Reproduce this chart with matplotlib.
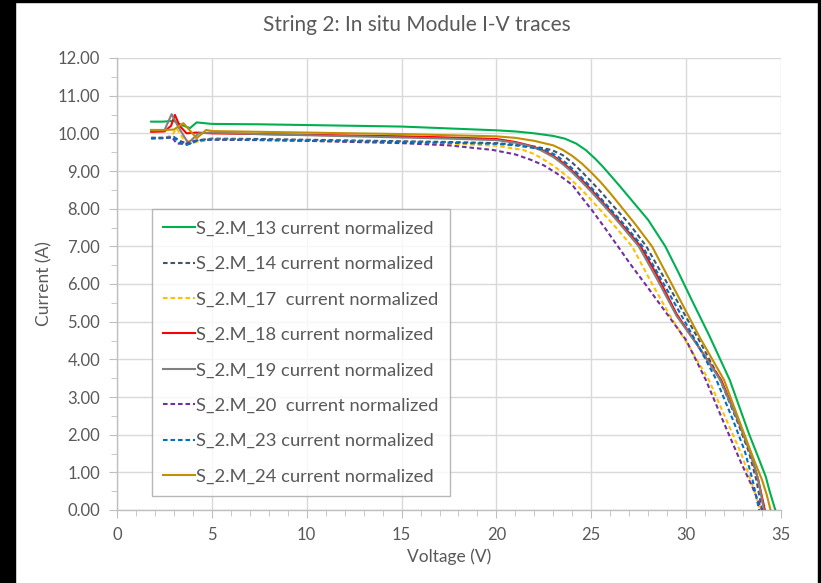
import matplotlib
matplotlib.use("Agg")
import matplotlib.pyplot as plt
from matplotlib.patches import Rectangle
from matplotlib.ticker import MultipleLocator, FormatStrFormatter

plt.rcParams['font.family'] = ['Lato', 'DejaVu Sans']

title = "String 2: In situ Module I-V traces"
x_label = "Voltage (V)"
y_label = "Current (A)"

labels = [
    "S_2.M_13 current normalized",
    "S_2.M_14 current normalized",
    "S_2.M_17  current normalized",
    "S_2.M_18 current normalized",
    "S_2.M_19 current normalized",
    "S_2.M_20  current normalized",
    "S_2.M_23 current normalized",
    "S_2.M_24 current normalized",
]

v_m13 = [1.8, 2.4, 3.0, 3.4, 3.85, 4.2, 4.6, 5.0, 7.5, 10, 12.5, 15, 17.5, 20, 21, 22, 23, 23.6, 24.2, 24.7, 25.2, 25.6, 26, 26.5, 27, 27.5, 28, 28.9, 29.6, 30.3, 31.2, 32.3, 33.3, 33.8, 34.2, 34.4, 34.55, 34.7]
i_m13 = [10.31, 10.31, 10.33, 10.22, 10.14, 10.29, 10.27, 10.25, 10.24, 10.22, 10.2, 10.18, 10.13, 10.08, 10.05, 10.0, 9.93, 9.86, 9.73, 9.56, 9.33, 9.12, 8.89, 8.6, 8.3, 8.0, 7.7, 7.0, 6.3, 5.57, 4.65, 3.45, 2.04, 1.4, 0.88, 0.5, 0.25, 0.0]

v_m14 = [1.8, 2.5, 3.0, 3.4, 3.8, 4.3, 5.0, 7.5, 10, 12.5, 15, 17.5, 20, 21, 22, 22.9, 23.5, 24, 24.5, 25, 25.5, 26, 26.5, 27, 27.9, 28.8, 29.8, 30.8, 31.8, 32.7, 33.3, 33.7, 34.0]
i_m14 = [9.88, 9.88, 9.9, 9.78, 9.72, 9.82, 9.86, 9.85, 9.83, 9.81, 9.79, 9.77, 9.74, 9.7, 9.65, 9.56, 9.42, 9.22, 8.98, 8.72, 8.45, 8.16, 7.88, 7.6, 7.0, 6.2, 5.3, 4.4, 3.45, 2.35, 1.55, 0.8, 0.0]

v_m17 = [1.8, 2.5, 2.9, 3.14, 3.5, 4.0, 5.0, 7.5, 10, 12.5, 15, 17.5, 20, 21.4, 22, 22.5, 23, 23.5, 24, 24.5, 25, 25.5, 26.3, 27.15, 28.1, 29.1, 30.2, 31.2, 32.2, 32.9, 33.4, 33.9]
i_m17 = [9.87, 9.88, 9.95, 10.13, 9.85, 9.75, 9.84, 9.82, 9.8, 9.78, 9.76, 9.73, 9.67, 9.56, 9.45, 9.3, 9.14, 8.95, 8.74, 8.5, 8.23, 7.95, 7.5, 7.0, 6.1, 5.2, 4.3, 3.45, 2.3, 1.5, 0.8, 0.0]

v_m18 = [1.8, 2.5, 2.85, 3.05, 3.3, 3.67, 4.2, 5.0, 7.5, 10, 12.5, 15, 17.5, 20, 21, 21.8, 22.4, 23, 23.5, 24, 24.5, 25, 25.5, 26, 26.5, 27.6, 28.5, 29.5, 30.7, 31.85, 32.8, 33.4, 33.8, 34.15]
i_m18 = [10.04, 10.05, 10.2, 10.49, 10.2, 10.0, 10.02, 10.0, 9.98, 9.96, 9.94, 9.92, 9.89, 9.85, 9.77, 9.67, 9.56, 9.4, 9.22, 9.0, 8.76, 8.5, 8.22, 7.94, 7.65, 7.0, 6.2, 5.2, 4.3, 3.45, 2.3, 1.5, 0.8, 0.0]

v_m19 = [1.8, 2.5, 2.88, 3.2, 3.75, 4.3, 5.0, 7.5, 10, 12.5, 15, 17.5, 20, 21, 21.7, 22.3, 23, 23.5, 24, 24.5, 25, 25.5, 26, 26.5, 27.5, 28.5, 29.5, 30.7, 31.8, 32.8, 33.4, 33.8, 34.1]
i_m19 = [10.08, 10.08, 10.51, 10.2, 9.74, 10.0, 10.02, 9.98, 9.95, 9.92, 9.89, 9.86, 9.82, 9.75, 9.67, 9.56, 9.37, 9.18, 8.96, 8.71, 8.45, 8.17, 7.89, 7.6, 7.0, 6.1, 5.15, 4.3, 3.45, 2.3, 1.5, 0.8, 0.0]

v_m20 = [1.8, 2.5, 2.9, 3.14, 3.6, 4.2, 5.0, 7.5, 10, 12.5, 15, 17.5, 19.8, 21, 21.8, 22.5, 23.2, 24, 24.5, 25.05, 25.7, 26.4, 27.1, 27.9, 29.0, 30.0, 31.04, 32.0, 32.9, 33.5, 34.0]
i_m20 = [9.86, 9.87, 9.9, 9.73, 9.72, 9.82, 9.83, 9.82, 9.8, 9.77, 9.74, 9.68, 9.56, 9.44, 9.3, 9.15, 8.93, 8.63, 8.3, 7.95, 7.5, 7.0, 6.5, 5.96, 5.2, 4.51, 3.45, 2.3, 1.25, 0.6, 0.0]

v_m23 = [1.8, 2.5, 3.0, 3.3, 3.67, 4.2, 5.0, 7.5, 10, 12.5, 15, 17.5, 20, 21, 22, 22.6, 23.2, 23.7, 24.2, 24.7, 25.2, 25.7, 26.2, 26.7, 27.7, 28.6, 29.6, 30.6, 31.6, 32.5, 33.1, 33.5, 33.85]
i_m23 = [9.88, 9.88, 9.9, 9.75, 9.69, 9.8, 9.84, 9.83, 9.81, 9.79, 9.77, 9.75, 9.72, 9.68, 9.61, 9.56, 9.4, 9.2, 8.97, 8.72, 8.45, 8.16, 7.88, 7.6, 7.0, 6.2, 5.3, 4.4, 3.45, 2.35, 1.55, 0.8, 0.0]

v_m24 = [1.8, 2.5, 3.0, 3.5, 4.2, 4.7, 5.0, 7.5, 10, 12.5, 15, 17.5, 20, 21, 22, 23, 23.5, 24, 24.5, 25, 25.5, 26, 26.5, 27.3, 28.2, 29.5, 30.7, 32.0, 33.0, 33.6, 34.0, 34.25, 34.45]
i_m24 = [10.09, 10.09, 10.1, 10.27, 9.87, 10.09, 10.06, 10.04, 10.02, 10.0, 9.98, 9.95, 9.92, 9.88, 9.8, 9.68, 9.56, 9.4, 9.2, 8.96, 8.7, 8.41, 8.1, 7.6, 7.0, 5.75, 4.6, 3.45, 2.1, 1.3, 0.8, 0.4, 0.0]

series_v = [v_m13, v_m14, v_m17, v_m18, v_m19, v_m20, v_m23, v_m24]
series_i = [i_m13, i_m14, i_m17, i_m18, i_m19, i_m20, i_m23, i_m24]
colors = ["#00B050", "#44546A", "#FFC000", "#FF0000", "#808080", "#7030A0", "#0070C0", "#BF9000"]
dash = (0, (2.2, 1.4))
styles = ["-", dash, dash, "-", "-", dash, dash, "-"]

W, H = 821, 583
fig = plt.figure(figsize=(W / 100, H / 100), dpi=100)
fig.patch.set_facecolor("white")

ax = fig.add_axes([117 / W, 1 - 510 / H, (781 - 117) / W, (510 - 58) / H])

for v, i, c, s, lab in zip(series_v, series_i, colors, styles, labels):
    ax.plot(v, i, color=c, linestyle=s, linewidth=1.5, label=lab, zorder=3)

ax.set_xlim(0, 35)
ax.set_ylim(0, 12)
ax.xaxis.set_major_locator(MultipleLocator(5))
ax.xaxis.set_minor_locator(MultipleLocator(1))
ax.yaxis.set_major_locator(MultipleLocator(1))
ax.yaxis.set_minor_locator(MultipleLocator(0.5))
ax.yaxis.set_major_formatter(FormatStrFormatter("%.2f"))
ax.grid(True, which="major", color="#D9D9D9", linewidth=1.0, zorder=0)
ax.set_axisbelow(True)
for side in ["top", "right"]:
    ax.spines[side].set_visible(False)
for side in ["left", "bottom"]:
    ax.spines[side].set_color("#BFBFBF")
    ax.spines[side].set_linewidth(1.0)
ax.tick_params(which="major", length=6, color="#BFBFBF", labelcolor="#595959", labelsize=12, pad=6)
ax.tick_params(which="minor", length=4, color="#BFBFBF")

ax.set_xlabel(x_label, fontsize=12.5, color="#595959", labelpad=4)
ax.set_ylabel(y_label, fontsize=12.5, color="#595959", labelpad=4)
fig.text(417 / W, 1 - 25 / H, title, fontsize=15, color="#595959", ha="center", va="center")

leg = ax.legend(loc="lower left", bbox_to_anchor=(35 / 664, 14 / 452), borderaxespad=0,
                fontsize=13.2, frameon=True, fancybox=False, edgecolor="#A6A6A6",
                handlelength=1.75, handletextpad=0.05, labelspacing=1.06,
                borderpad=0.62)
leg.get_frame().set_linewidth(1.0)
for t in leg.get_texts():
    t.set_color("#595959")

# black border strips of the reference image
fig.patches.append(Rectangle((0, 0), 15 / W, 1, transform=fig.transFigure, color="black", zorder=10))
fig.patches.append(Rectangle((0, 1 - 2 / H), 1, 2 / H, transform=fig.transFigure, color="black", zorder=10))
fig.patches.append(Rectangle((1 - 3 / W, 0), 3 / W, 1, transform=fig.transFigure, color="black", zorder=10))

fig.savefig("out.png", dpi=100)
